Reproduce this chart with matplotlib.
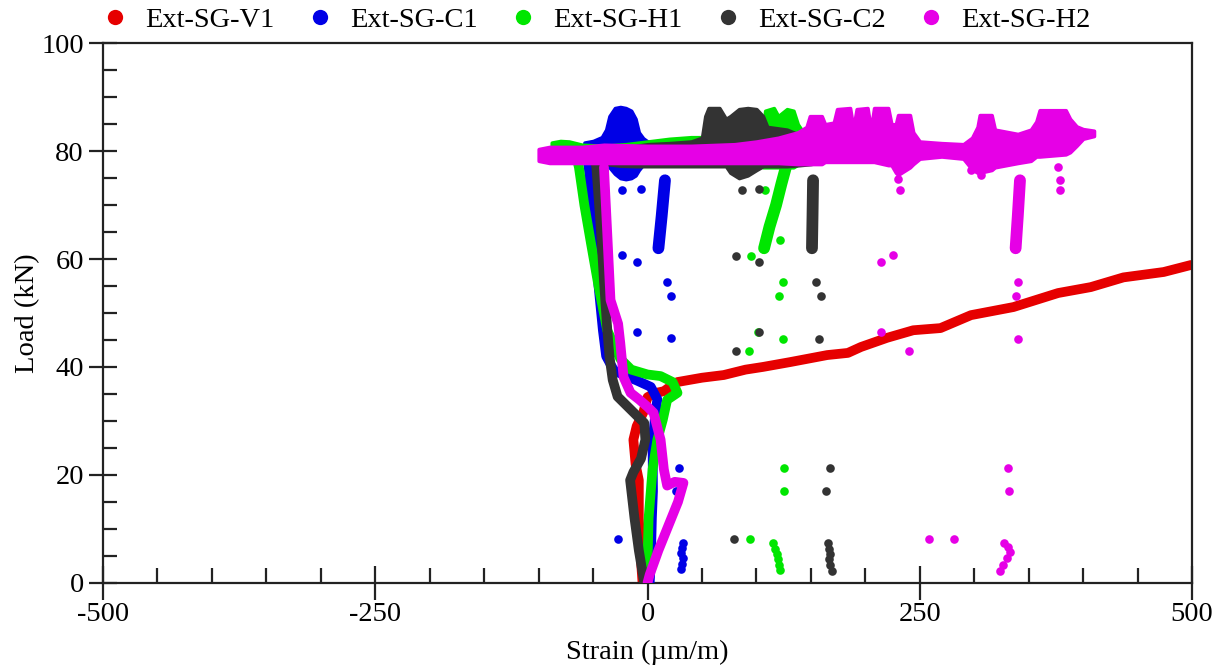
import matplotlib
matplotlib.use("Agg")
import matplotlib.pyplot as plt
from matplotlib.ticker import MultipleLocator

plt.rcParams["font.family"] = ["Liberation Serif", "DejaVu Serif"]
plt.rcParams["axes.unicode_minus"] = False

# ---------------- series names / colours ----------------
labels = ["Ext-SG-V1", "Ext-SG-C1", "Ext-SG-H1", "Ext-SG-C2", "Ext-SG-H2"]
colors = ["#e60000", "#0000e6", "#00e600", "#333333", "#e600e6"]

# ---------------- Ext-SG-V1 (red) ----------------
v1_x = [-4.6, -6, -8, -8, -11, -13, -10, -4, 0, 8, 15, 22, 27.5, 50, 70, 90, 106,
        131, 165, 184, 196, 220, 244, 269, 297, 336, 377, 407, 437, 474, 499]
v1_y = [0, 4, 12, 19, 22, 26.5, 29, 31.5, 34.4, 35.2, 35.5, 36.5, 37.2, 38, 38.5,
        39.5, 40, 40.9, 42.2, 42.6, 43.7, 45.4, 46.8, 47.2, 49.6, 51.1, 53.7, 54.8,
        56.6, 57.6, 58.9]

# ---------------- Ext-SG-C1 (blue) ----------------
c1_x = [2, 3, 4, 5, 4.6, 7, 9, 3, -10, -22, -31, -38, -41, -45, -49, -54, -56]
c1_y = [0, 4, 12, 17, 26, 31, 34, 36.3, 37.5, 38.5, 39.4, 42, 46.8, 55, 65, 77, 79]
c1_band_x = [-58, -50, -42, -38, -35, -30, -25, -20, -15, -11, -8, -4, 0]
c1_band_lo = [78.0, 77.6, 77.6, 77.4, 77.0, 75.8, 75.0, 74.8, 75.0, 75.5, 76.5, 77.5, 78.0]
c1_band_hi = [81.6, 81.9, 82.6, 84.0, 86.5, 88.0, 88.2, 88.0, 87.5, 86.0, 83.5, 82.4, 81.8]
c1_drip_x = [10, 13, 16]
c1_drip_y = [62, 68, 74.6]
c1_dots_x = [-27.5, 28.5, 25.7, 31, 32, 33, 31, 32, 33, 22, -10, 22, 18, -23, -10, -23, -6.4]
c1_dots_y = [8.1, 21.3, 17, 2.5, 3.5, 4.5, 5.5, 6.5, 7.3, 45.3, 46.4, 53.1, 55.7, 60.7,
             59.4, 72.8, 73]

# ---------------- Ext-SG-H1 (green) ----------------
h1_x = [-2, 0, 1, 4.6, 9, 14, 18, 27.5, 23, 12, 0, -15, -25, -37, -45, -52, -58, -63, -66]
h1_y = [0, 4, 12, 21, 26.5, 30.2, 33.9, 35.2, 37.2, 38.3, 38.6, 39.5, 41.5, 46.8, 55, 63,
        70, 77, 79.5]
h1_band_x = [-88, -80, -72, -60, -40, -20, 0, 20, 40, 60, 80, 100, 106, 108, 116, 120,
             128, 134, 138, 142, 152, 160]
h1_band_lo = [79.0, 78.8, 78.8, 78.5, 78.5, 78.5, 78.5, 78.5, 78.5, 78.5, 78.5, 78.0,
              77.0, 77.0, 77.0, 77.0, 77.0, 77.0, 77.5, 78.0, 78.5, 79.0]
h1_band_hi = [81.6, 81.9, 81.8, 81.2, 81.0, 81.3, 81.8, 82.3, 82.6, 82.6, 82.8, 83.3,
              84.0, 87.5, 88.0, 86.5, 87.8, 87.5, 85.0, 83.8, 83.0, 82.0]
h1_drip_x = [107, 112, 118, 123, 127]
h1_drip_y = [62, 66, 70, 74, 77]
h1_dots_x = [94, 125, 125, 115, 117, 119, 120, 121, 122, 93, 101, 124, 121, 124, 94.6,
             108, 122]
h1_dots_y = [8.1, 21.3, 17, 7.3, 6.3, 5.3, 4.3, 3.3, 2.4, 43, 46.4, 45.2, 53.1, 55.7,
             60.5, 72.8, 63.5]

# ---------------- Ext-SG-C2 (dark grey) ----------------
c2_x = [-3, -8, -12, -16, -13, -6, -2, -3, -10, -20, -27.5, -32, -35, -37, -40, -43, -47, -49]
c2_y = [0, 6, 12, 19, 20.5, 23, 26.5, 29.6, 31, 33, 34.5, 37.6, 42, 47, 56, 66, 77, 79]
c2_band_x = [-38, -25, -10, 0, 20, 40, 50, 53, 56, 66, 72, 76, 84, 92, 100, 106, 110,
             128, 140, 150, 160]
c2_band_lo = [77.6, 77.3, 77.2, 77.2, 77.2, 77.2, 77.2, 77.2, 77.2, 77.2, 77.2, 76.0,
              75.0, 75.5, 76.5, 77.2, 77.2, 77.2, 77.4, 77.6, 78.0]
c2_band_hi = [79.5, 80.5, 81.0, 81.3, 81.5, 81.8, 82.5, 86.5, 88.0, 88.0, 86.0, 86.5,
              87.8, 88.0, 87.8, 86.5, 84.5, 84.0, 83.0, 82.0, 80.5]
c2_drip_x = [151, 151.5, 152]
c2_drip_y = [62, 68, 74.6]
c2_dots_x = [79, 168, 164, 166, 167, 168, 167, 168, 169, 81, 102, 157, 159, 155, 81, 102,
             87, 102]
c2_dots_y = [8.1, 21.3, 17, 7.3, 6.3, 5.3, 4.3, 3.2, 2.1, 43, 46.4, 45.2, 53.1, 55.7,
             60.5, 59.4, 72.8, 73]

# ---------------- Ext-SG-H2 (magenta) ----------------
h2_x = [0, 2, 10, 20, 28, 33, 25, 18, 15, 12, 5.5, 0, -8, -15.6, -22, -25, -27, -34,
        -37, -40]
h2_y = [0, 1.5, 6, 11, 15, 18.5, 18.7, 18, 21, 26.5, 31.5, 32.6, 34, 35.2, 38.1, 44.4,
        48, 52.4, 64.8, 77]
h2_band_x = [-100, -90, -60, -40, 0, 40, 80, 100, 120, 138, 146, 149, 160, 163, 171,
             174, 186, 188, 190, 192, 202, 204, 206, 208, 221, 224, 228, 230, 241, 244,
             250, 270, 290, 298, 303, 305, 316, 319, 340, 352, 357, 360, 384, 388, 394,
             400, 410]
h2_band_lo = [78.2, 77.8, 77.8, 77.8, 77.8, 77.8, 77.8, 77.8, 77.8, 77.6, 77.6, 77.6,
              77.6, 78.0, 78.0, 78.0, 78.0, 78.0, 78.0, 78.0, 78.0, 78.0, 78.0, 78.0,
              77.4, 77.4, 76.0, 75.6, 77.0, 77.6, 78.6, 79.0, 78.6, 76.6, 76.0, 76.0,
              76.5, 77.0, 77.8, 78.2, 79.0, 79.0, 79.4, 79.8, 81.0, 82.3, 82.8]
h2_band_hi = [80.4, 80.8, 80.8, 81.2, 81.0, 81.0, 81.3, 81.8, 82.5, 83.5, 84.5, 86.5,
              86.5, 85.0, 85.3, 87.8, 88.0, 85.5, 85.5, 87.8, 88.0, 85.5, 85.3, 88.0,
              88.0, 85.0, 85.0, 86.7, 86.7, 83.5, 81.8, 81.5, 81.3, 82.5, 84.5, 86.7,
              86.7, 84.0, 83.2, 84.0, 85.5, 87.6, 87.6, 86.0, 84.6, 84.1, 83.8]
h2_drip_x = [338, 340, 342]
h2_drip_y = [62, 68, 74.6]
h2_dots_x = [214, 225, 214, 240, 340, 338, 340, 331, 332, 258, 281, 324, 326, 330, 333,
             331, 327, 232, 230, 379, 379, 377, 306, 297]
h2_dots_y = [59.4, 60.7, 46.5, 43, 55.7, 53.1, 45.2, 21.3, 17, 8.1, 8.1, 2.2, 3.3, 4.5,
             5.6, 6.6, 7.3, 72.8, 74.8, 74.6, 72.8, 77, 75.6, 76.5]

# ---------------- axis settings ----------------
x_lim = (-500, 500)
y_lim = (0, 100)
x_ticks = [-500, -250, 0, 250, 500]
y_ticks = [0, 20, 40, 60, 80, 100]
x_title = "Strain (\u00b5m/m)"
y_title = "Load (kN)"

fig = plt.figure(figsize=(12.25, 6.67), dpi=100)
ax = fig.add_axes([0.0841, 0.1264, 0.8890, 0.8087])

trace_lw = 7.0
dot_ms = 6.2

series = [
    (v1_x, v1_y, None, None, None, None, None, None, None),
    (c1_x, c1_y, c1_band_x, c1_band_lo, c1_band_hi, c1_drip_x, c1_drip_y, c1_dots_x, c1_dots_y),
    (h1_x, h1_y, h1_band_x, h1_band_lo, h1_band_hi, h1_drip_x, h1_drip_y, h1_dots_x, h1_dots_y),
    (c2_x, c2_y, c2_band_x, c2_band_lo, c2_band_hi, c2_drip_x, c2_drip_y, c2_dots_x, c2_dots_y),
    (h2_x, h2_y, h2_band_x, h2_band_lo, h2_band_hi, h2_drip_x, h2_drip_y, h2_dots_x, h2_dots_y),
]

for k, (tx, ty, bx, blo, bhi, dx, dy, px, py) in enumerate(series):
    col = colors[k]
    z = 2 + k
    ax.plot(tx, ty, color=col, lw=trace_lw, solid_capstyle="round",
            solid_joinstyle="round", zorder=z)
    if bx is not None:
        ax.fill_between(bx, blo, bhi, color=col, lw=2.5, edgecolor=col,
                        joinstyle="round", zorder=z)
        ax.plot(dx, dy, color=col, lw=8.5, solid_capstyle="round", zorder=z)
        ax.plot(px, py, "o", color=col, ms=dot_ms, mew=0, zorder=z)

ax.set_xlim(*x_lim)
ax.set_ylim(*y_lim)
ax.set_xticks(x_ticks)
ax.set_yticks(y_ticks)
ax.xaxis.set_minor_locator(MultipleLocator(50))
ax.yaxis.set_minor_locator(MultipleLocator(5))

spine_col = "#222222"
for s in ax.spines.values():
    s.set_linewidth(1.6)
    s.set_color(spine_col)

ax.tick_params(axis="x", which="major", direction="inout", length=24, width=1.6,
               color=spine_col, labelsize=20.5, pad=2, top=False)
ax.tick_params(axis="x", which="minor", direction="in", length=10.8, width=1.6,
               color=spine_col, top=False)
ax.tick_params(axis="y", which="major", direction="inout", length=19.5, width=1.6,
               color=spine_col, labelsize=20.5, pad=4, right=False)
ax.tick_params(axis="y", which="minor", direction="in", length=10.2, width=1.6,
               color=spine_col, right=False)

ax.set_xlabel(x_title, fontsize=20.5, labelpad=9)
ax.set_ylabel(y_title, fontsize=20.5, labelpad=1)

handles = [ax.plot([], [], "o", color=c, ms=11, mew=0)[0] for c in colors]
ax.legend(handles, labels, loc="lower left", bbox_to_anchor=(-0.007, 1.008), ncol=5,
          frameon=False, fontsize=20.5, handlelength=1.0, handletextpad=0.55,
          columnspacing=1.1, borderpad=0.2, borderaxespad=0)

fig.savefig("out.png", dpi=100)
